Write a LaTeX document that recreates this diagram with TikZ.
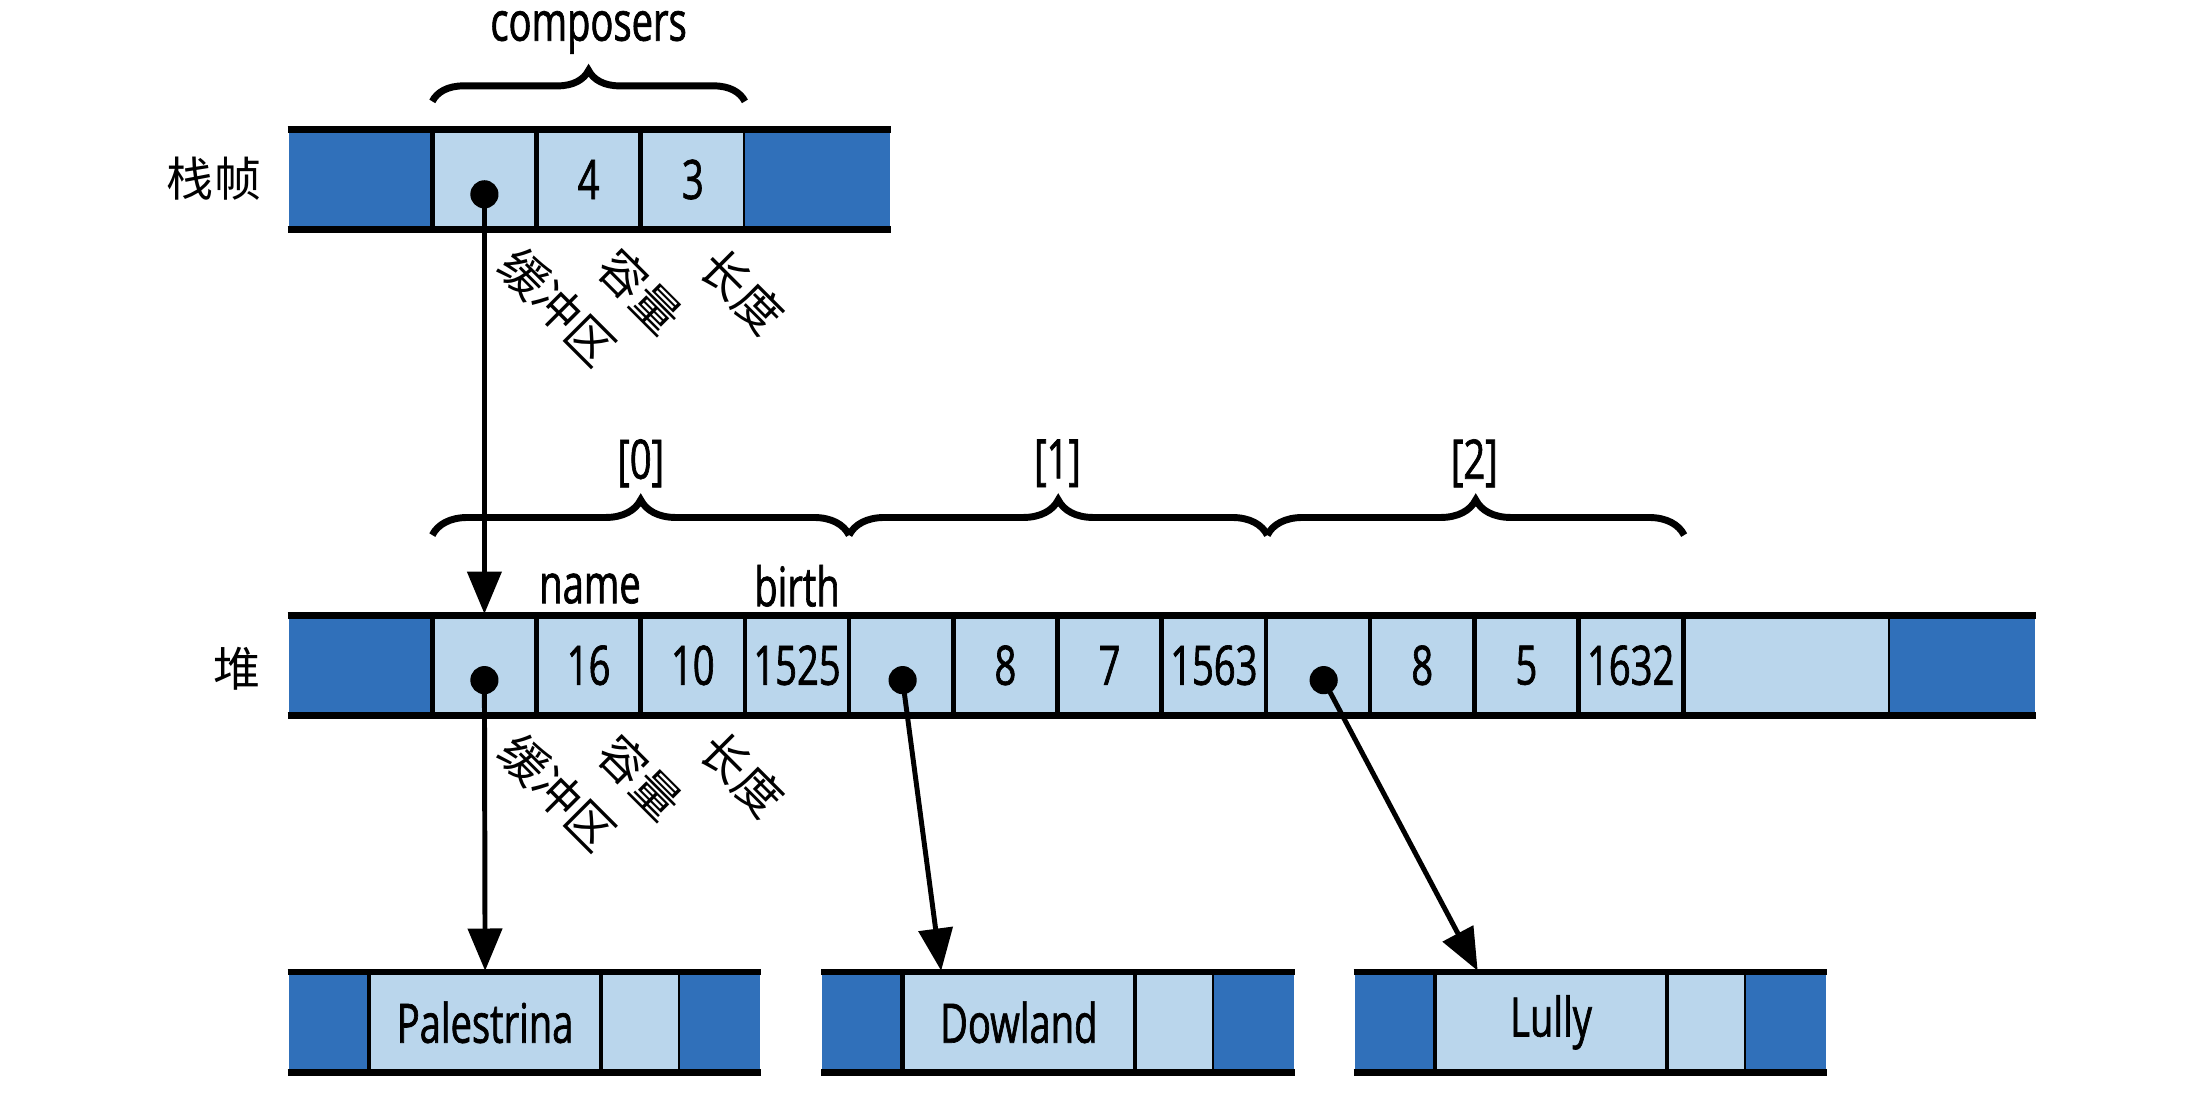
\documentclass[tikz,border=0pt]{standalone}
\usepackage{fontspec}
\setmainfont{Open Sans}[FakeStretch=0.7, FakeBold=1.2]
\newfontfamily\cjk{Noto Sans CJK SC}
\usetikzlibrary{arrows.meta,calc,decorations.pathreplacing}
\definecolor{dblue}{RGB}{48,112,186}
\definecolor{lblue}{RGB}{186,214,236}

\begin{document}
\begin{tikzpicture}[
    x=0.01cm, y=-0.01cm,
    font=\fontsize{11}{13}\selectfont,
    lcell/.style={draw, line width=0.9pt, fill=lblue, minimum height=0.7cm, inner sep=0pt},
    dcell/.style={fill=dblue, minimum height=0.7cm, inner sep=0pt},
    rowline/.style={line width=1.4pt},
    dot/.style={circle, fill=black, inner sep=0pt, minimum size=0.2cm},
    ptr/.style={-{Triangle[length=0.3cm, width=0.24cm]}, line width=1pt},
    brc/.style={decorate, decoration={brace, amplitude=#1}, line width=1.4pt},
    zh/.style={font=\cjk\fontsize{9.5}{11}\selectfont},
    tag/.style={zh, rotate=-45, inner sep=1pt}
]
\useasboundingbox (0,0) rectangle (1568,791);

% stack frame
\node[zh] (lstack) at (152,127) {栈帧};
\node[dcell, minimum width=1.02cm] (s0) at (256,127.5) {};
\node[lcell, minimum width=0.74cm] (s1) at (344,127.5) {};
\node[lcell, minimum width=0.74cm] (s2) at (418,127.5) {4};
\node[lcell, minimum width=0.74cm] (s3) at (492,127.5) {3};
\node[dcell, minimum width=1.03cm] (s4) at (580.5,127.5) {};
\draw[rowline] (s0.north west) -- (s4.north east);
\draw[rowline] (s0.south west) -- (s4.south east);
\node[dot] (p0) at (344,138) {};

\draw[brc=0.22cm] (307,72) -- (529,72);
\node (comp) at (418,23) {composers};

\node[tag] at (396,218) {缓冲区};
\node[tag] at (455,207) {容量};
\node[tag] at (527,207) {长度};

% heap
\node[zh] (lheap) at (168,475) {堆};
\node[dcell, minimum width=1.02cm] (h0) at (256,472.5) {};
\foreach \i/\v in {1/{},2/16,3/10,4/1525,5/{},6/8,7/7,8/1563,9/{},10/8,11/5,12/1632}
  \node[lcell, minimum width=0.74cm] (h\i) at ({307+74*\i-37},472.5) {\v};
\node[lcell, minimum width=1.46cm] (h13) at (1269,472.5) {};
\node[dcell, minimum width=1.03cm] (h14) at (1393.5,472.5) {};
\draw[rowline] (h0.north west) -- (h14.north east);
\draw[rowline] (h0.south west) -- (h14.south east);

\node[dot] (q1) at (344,483) {};
\node[dot] (q2) at (641,483) {};
\node[dot] (q3) at (940,483) {};

\draw[brc=0.25cm] (307,380) -- (603,380);
\draw[brc=0.25cm] (603,380) -- (900,380);
\draw[brc=0.25cm] (900,380) -- (1196,380);
\node (i0) at (455,329) {[0]};
\node (i1) at (751,329) {[1]};
\node (i2) at (1047,329) {[2]};

\node (fname) at (419,418) {name};
\node (fbirth) at (566,416) {birth};

\node[tag] at (396,563) {缓冲区};
\node[tag] at (455,552) {容量};
\node[tag] at (527,550) {长度};

% strings
\foreach \n/\name/\o in {1/Palestrina/0,2/Dowland/379,3/Lully/757}{
  \node[dcell, minimum width=0.57cm] (a\n) at ({233.5+\o},726) {};
  \node[lcell, minimum width=1.65cm] (n\n) at ({344.5+\o},726) {\name};
  \node[lcell, minimum width=0.56cm] (c\n) at ({455+\o},726) {};
  \node[dcell, minimum width=0.57cm] (e\n) at ({511.5+\o},726) {};
  \draw[rowline] (a\n.north west) -- (e\n.north east);
  \draw[rowline] (a\n.south west) -- (e\n.south east);
}

\draw[ptr] (p0.center) -- (h1.north);
\draw[ptr] (q1.center) -- (n1.north);
\draw[ptr] (q2.center) -- ($(n2.north west)+(29,0)$);
\draw[ptr] (q3.center) -- ($(n3.north west)+(32,0)$);
\end{tikzpicture}
\end{document}
